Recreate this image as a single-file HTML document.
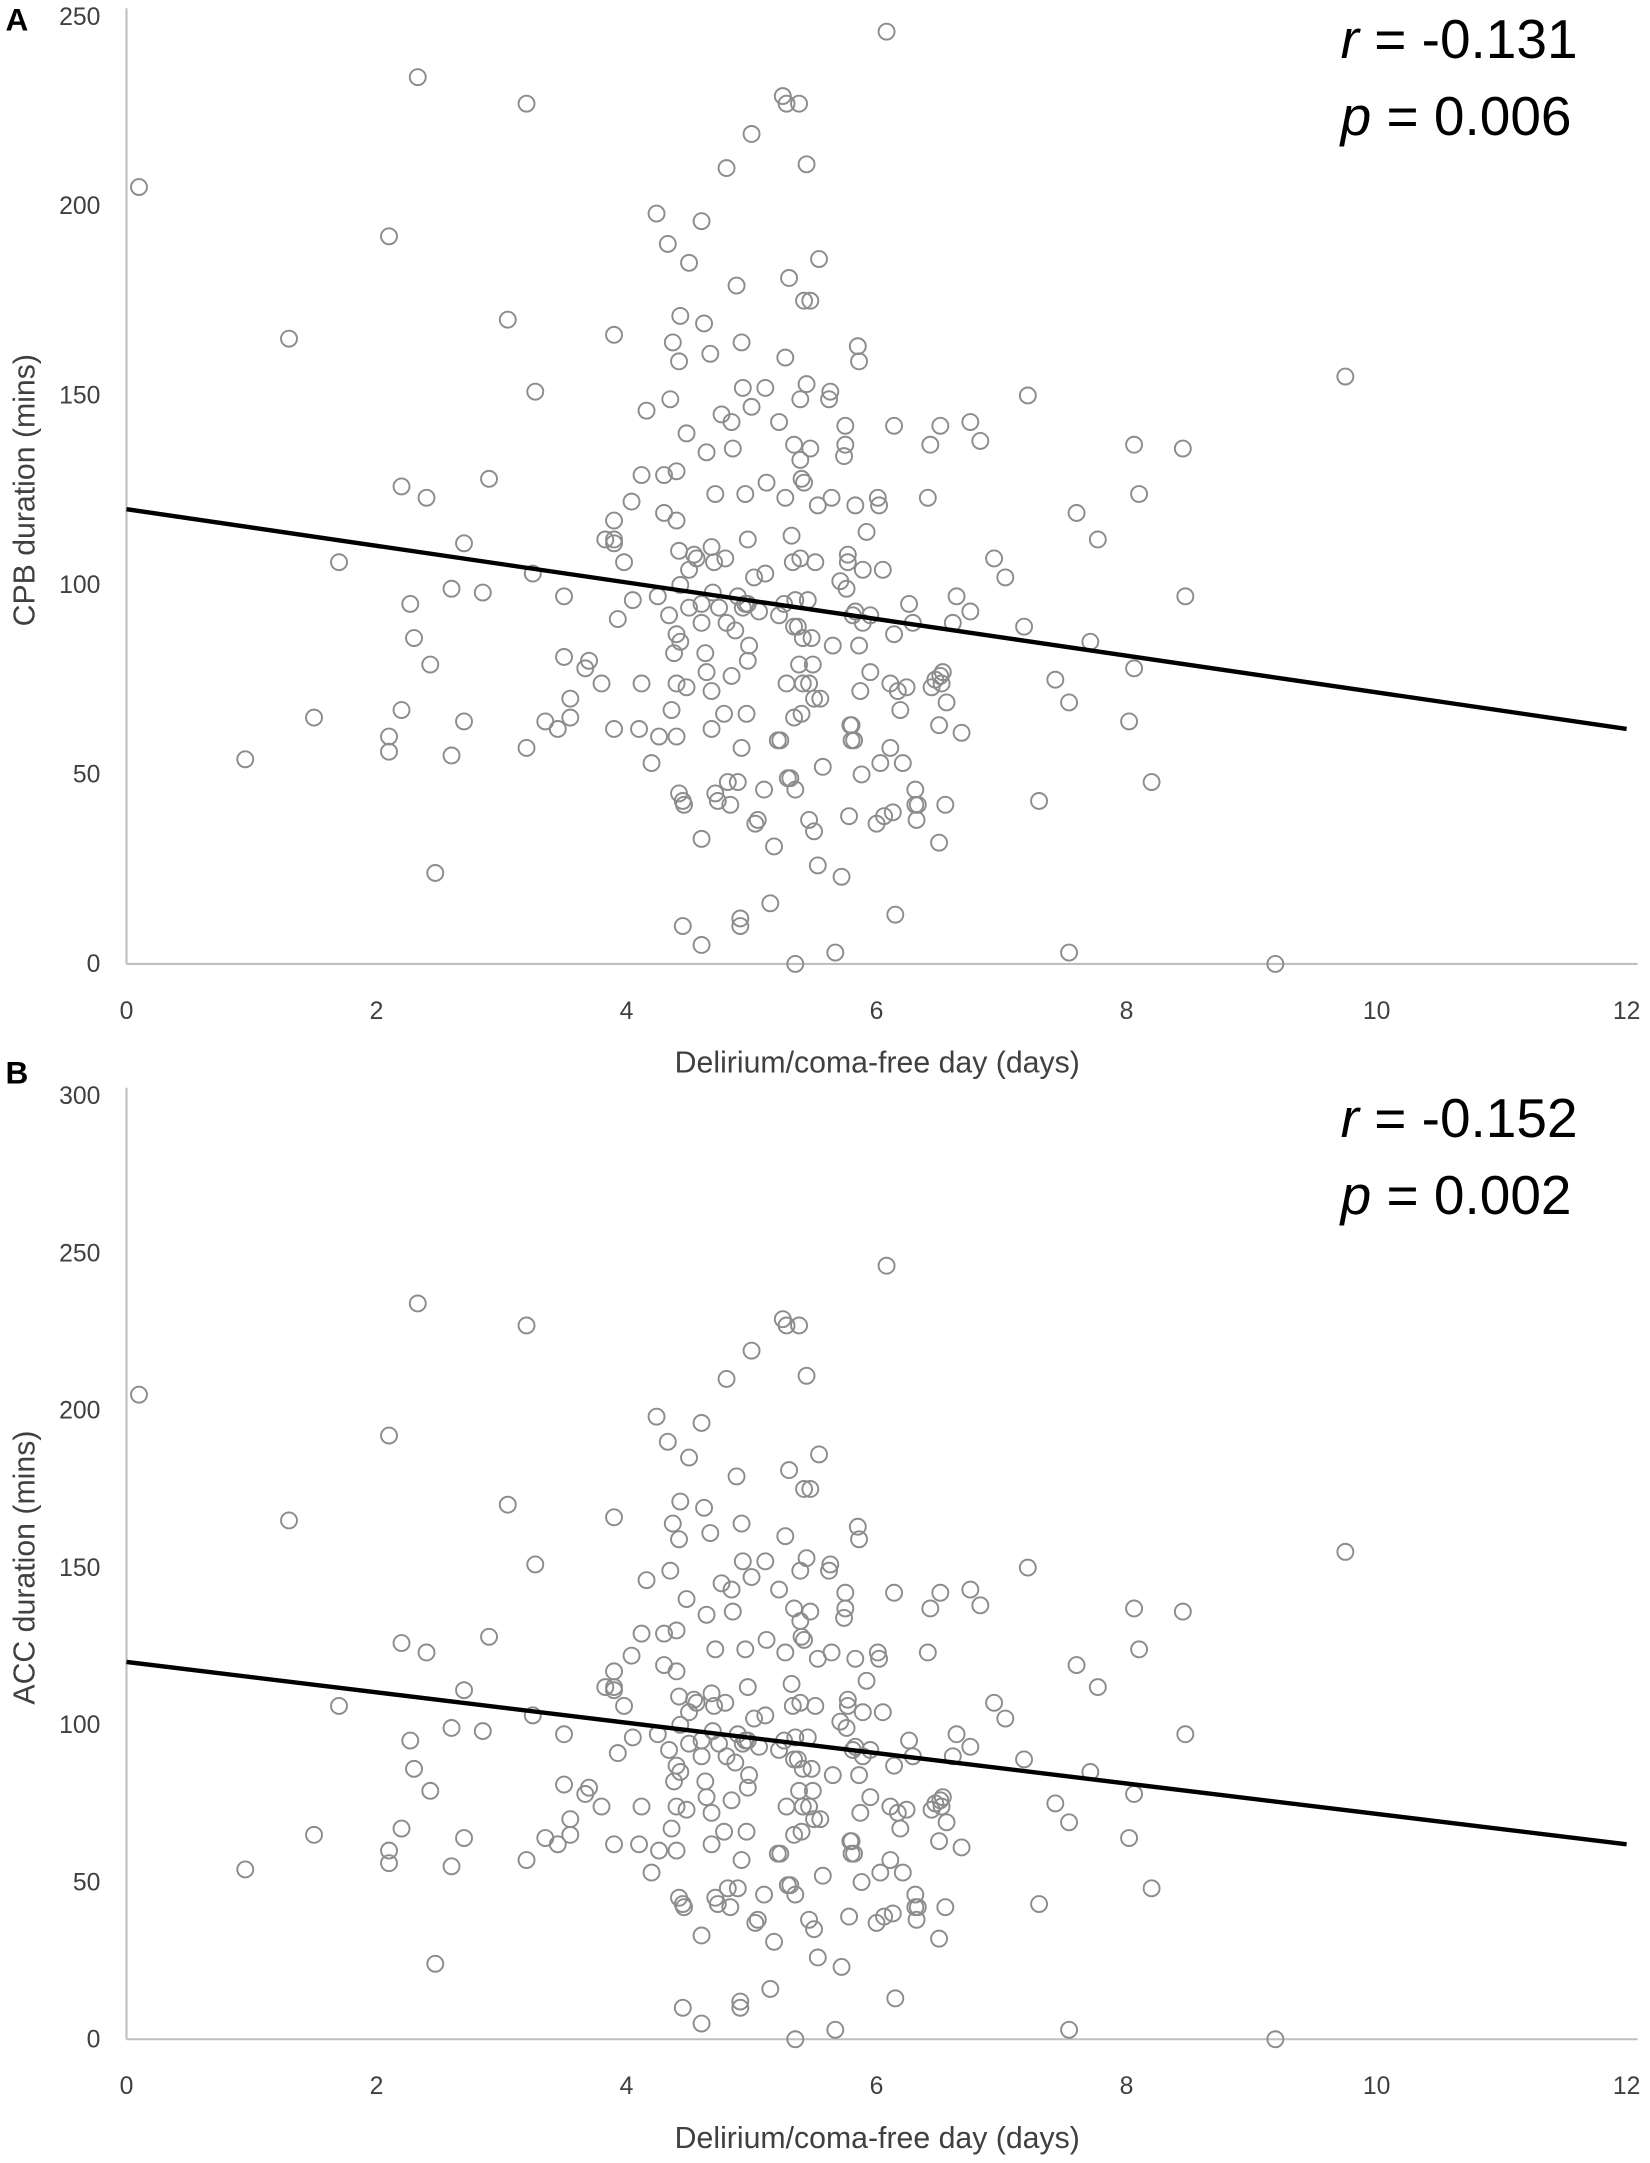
<!DOCTYPE html>
<html><head><meta charset="utf-8"><style>
html,body{margin:0;padding:0;background:#fff;}
svg{display:block;font-family:"Liberation Sans",sans-serif;}
</style></head><body>
<svg id="fig" width="1650" height="2163" viewBox="0 0 1200 1573" preserveAspectRatio="none" xmlns="http://www.w3.org/2000/svg"></svg>
<script>
const xData=[0.1,0.95,1.3,1.5,1.7,2.1,2.1,2.1,2.2,2.2,2.27,2.3,2.33,2.4,2.43,2.47,2.6,2.6,2.7,2.7,2.85,2.9,3.05,3.2,3.2,3.25,3.27,3.35,3.45,3.5,3.5,3.55,3.55,3.67,3.7,3.8,3.83,3.9,3.9,3.9,3.9,3.93,3.9,3.98,4.04,4.05,4.1,4.12,4.12,4.16,4.2,4.24,4.25,4.26,4.3,4.3,4.33,4.34,4.35,4.36,4.37,4.38,4.4,4.4,4.4,4.4,4.4,4.42,4.42,4.42,4.43,4.43,4.43,4.45,4.46,4.45,4.48,4.5,4.5,4.48,4.5,4.54,4.56,4.6,4.6,4.6,4.6,4.62,4.64,4.6,4.63,4.64,4.67,4.68,4.68,4.68,4.69,4.7,4.71,4.71,4.73,4.74,4.76,4.78,4.79,4.8,4.8,4.81,4.83,4.84,4.84,4.85,4.87,4.88,4.89,4.89,4.91,4.91,4.92,4.92,4.93,4.93,4.95,4.95,4.96,4.97,4.97,4.97,4.98,5.0,5.0,5.02,5.03,5.05,5.06,5.1,5.11,5.11,5.12,5.15,5.18,5.21,5.22,5.22,5.23,5.25,5.26,5.27,5.27,5.28,5.28,5.29,5.3,5.31,5.32,5.33,5.34,5.34,5.34,5.35,5.35,5.35,5.37,5.38,5.38,5.39,5.39,5.39,5.4,5.4,5.41,5.41,5.42,5.42,5.44,5.44,5.45,5.46,5.46,5.47,5.47,5.48,5.49,5.5,5.5,5.51,5.53,5.53,5.54,5.55,5.57,5.62,5.63,5.64,5.65,5.67,5.71,5.72,5.74,5.75,5.75,5.76,5.77,5.77,5.78,5.79,5.8,5.8,5.81,5.82,5.83,5.83,5.85,5.86,5.86,5.87,5.88,5.89,5.89,5.92,5.95,5.95,6.0,6.01,6.02,6.03,6.05,6.06,6.08,6.11,6.11,6.13,6.14,6.14,6.15,6.17,6.19,6.21,6.24,6.26,6.29,6.31,6.31,6.32,6.33,6.41,6.43,6.44,6.47,6.5,6.5,6.51,6.51,6.52,6.53,6.55,6.56,6.61,6.64,6.68,6.75,6.75,6.83,6.94,7.03,7.18,7.21,7.3,7.43,7.54,7.54,7.6,7.71,7.77,8.02,8.06,8.06,8.1,8.2,8.45,8.47,9.19,9.75];
const yData=[205,54,165,65,106,192,60,56,67,126,95,86,234,123,79,24,99,55,111,64,98,128,170,227,57,103,151,64,62,97,81,65,70,78,80,74,112,166,112,117,111,91,62,106,122,96,62,129,74,146,53,198,97,60,119,129,190,92,149,67,164,82,130,117,87,74,60,109,45,159,171,100,85,43,42,10,140,94,185,73,104,108,107,95,33,5,196,169,135,90,82,77,161,72,62,110,98,106,45,124,43,94,145,66,107,210,90,48,42,143,76,136,88,179,48,97,12,10,57,164,94,152,124,95,66,95,112,80,84,219,147,102,37,38,93,46,152,103,127,16,31,59,92,143,59,229,95,123,160,227,74,49,181,49,113,106,137,65,89,46,96,0,89,79,227,133,107,149,66,128,86,74,127,175,211,153,96,38,74,175,136,86,79,35,70,106,26,121,186,70,52,149,151,123,84,3,101,23,134,142,137,99,108,106,39,63,63,59,92,59,121,93,163,84,159,72,50,90,104,114,92,77,37,123,121,53,104,39,246,74,57,40,142,87,13,72,67,53,73,95,90,46,42,38,42,123,137,73,75,32,63,142,76,74,77,42,69,90,97,61,143,93,138,107,102,89,150,43,75,69,3,119,85,112,64,78,137,124,48,136,97,0,155];
const xTicks=[0,2,4,6,8,10,12];
const yTicksA=[0,50,100,150,200,250];
const yTicksB=[0,50,100,150,200,250,300];
const fitStart=120, fitEnd=62;
const NS="http://www.w3.org/2000/svg";
const svg=document.getElementById('fig');
function mk(tag,attrs,parent){const e=document.createElementNS(NS,tag);for(const k in attrs)e.setAttribute(k,attrs[k]);(parent||svg).appendChild(e);return e;}
function panel(id,top,bottom,yMax,yTicks,yTitle,rText,pText,letter){
  const g=mk('g',{});
  
  
  const x0=92,x1=1183;
  const xs=v=>x0+(x1-x0)*v/12;
  const ys=v=>bottom-(bottom-top)*v/yMax;
  const yAx=mk('line',{x1:x0,y1:top-6,x2:x0,y2:bottom,stroke:'#bfbfbf','stroke-width':1.5},g);
  
  
  const xAx=mk('line',{x1:x0,y1:bottom,x2:x1+8,y2:bottom,stroke:'#bfbfbf','stroke-width':1.5},g);
  
  
  yTicks.forEach(t=>{const e=mk('text',{x:73,y:ys(t)+6,'text-anchor':'end','font-size':18,fill:'#404040'},g);e.textContent=t;
    
    });
  xTicks.forEach(t=>{const e=mk('text',{x:xs(t),y:bottom+40,'text-anchor':'middle','font-size':18,fill:'#404040'},g);e.textContent=t;
    
    });
  const xt=mk('text',{x:638,y:bottom+79,'text-anchor':'middle','font-size':22,fill:'#404040'},g);xt.textContent='Delirium/coma-free day (days)';
  
  
  const ytt=mk('text',{x:0,y:0,'text-anchor':'middle','font-size':22,fill:'#404040',transform:`translate(25,${(top+bottom)/2}) rotate(-90)`},g);ytt.textContent=yTitle;
  
  
  xData.forEach((x,i)=>{const c=mk('circle',{cx:xs(x),cy:ys(yData[i]),r:5.8,fill:'none',stroke:'#8c8c8c','stroke-width':1.4},g);
    
    });
  const fl=mk('line',{x1:xs(0),y1:ys(fitStart),x2:xs(12),y2:ys(fitEnd),stroke:'#000','stroke-width':3.2},g);
  
  
  const r=mk('text',{x:975,y:top+30,'font-size':40,fill:'#000'},g);
  r.innerHTML='<tspan font-style="italic">r</tspan> = '+rText;
  
  
  const p=mk('text',{x:975,y:top+86,'font-size':40,fill:'#000'},g);
  p.innerHTML='<tspan font-style="italic">p</tspan> = '+pText;
  
  
  const L=mk('text',{x:4,y:letter,'font-size':23,'font-weight':'bold',fill:'#000'},g);L.textContent=id;
  
  
}
panel('A',12,701,250,yTicksA,'CPB duration (mins)','-0.131','0.006',22);
panel('B',797,1483,300,yTicksB,'ACC duration (mins)','-0.152','0.002',788);
</script>
</body></html>
